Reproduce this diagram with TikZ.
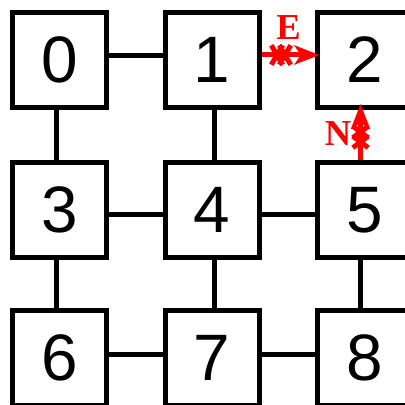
\documentclass[tikz,border=0pt]{standalone}
\usepackage{fontspec}
\setmainfont{Liberation Sans}
\newfontfamily\lblserif{Liberation Serif}
\usetikzlibrary{arrows.meta,calc,shapes.misc}
\begin{document}
\begin{tikzpicture}[x=0.25mm,y=-0.25mm,
  box/.style={draw=black, line width=1.25mm, minimum width=23.5mm, minimum height=23.75mm, inner sep=0pt, font=\fontsize{46.7}{50}\selectfont},
  conn/.style={draw=black, line width=1.25mm},
  redarrow/.style={draw=red, line width=1.25mm, -{Stealth[length=6.25mm,width=4.75mm,inset=1.6mm]}},
  xmarkh/.style={cross out, draw=red, line width=1.25mm, minimum width=1.6mm, minimum height=3.6mm, inner sep=0pt},
  xmarkv/.style={cross out, draw=red, line width=1.25mm, minimum width=2.6mm, minimum height=1.6mm, inner sep=0pt},
  lbl/.style={text=red, font=\lblserif\bfseries\fontsize{26}{28}\selectfont, inner sep=0pt}
]
\clip (0,0) rectangle (405,405);
\node[box] (b0) at (59.5,60) {0};
\node[box] (b1) at (212,60) {1};
\node[box] (b2) at (364.5,60) {2};
\node[box] (b3) at (59.5,210) {3};
\node[box] (b4) at (212,210) {4};
\node[box] (b5) at (364.5,210) {5};
\node[box] (b6) at (59.5,358) {6};
\node[box] (b7) at (212,358) {7};
\node[box] (b8) at (364.5,358) {8};
% connectors
\draw[conn] ($(b0.east)+(0,-4)$) -- ($(b1.west)+(0,-4)$);
\draw[conn] ($(b3.east)+(0,4)$) -- ($(b4.west)+(0,4)$);
\draw[conn] ($(b4.east)+(0,4)$) -- ($(b5.west)+(0,4)$);
\draw[conn] ($(b6.east)+(0,-4)$) -- ($(b7.west)+(0,-4)$);
\draw[conn] ($(b7.east)+(0,-4)$) -- ($(b8.west)+(0,-4)$);
\draw[conn] ($(b0.south)+(-3,0)$) -- ($(b3.north)+(-3,0)$);
\draw[conn] ($(b3.south)+(-3,0)$) -- ($(b6.north)+(-3,0)$);
\draw[conn] ($(b1.south)+(2.5,0)$) -- ($(b4.north)+(2.5,0)$);
\draw[conn] ($(b4.south)+(2.5,0)$) -- ($(b7.north)+(2.5,0)$);
\draw[conn] ($(b5.south)+(-4,0)$) -- ($(b8.north)+(-4,0)$);
% red arrows
\draw[redarrow] ($(b1.east)+(0,-5)$) -- ($(b2.west)+(4.5,-5)$);
\draw[redarrow] ($(b5.north)+(-4,0)$) -- ($(b2.south)+(-4,-6)$);
\node[xmarkh] (ex1) at (277,55) {};
\node[xmarkh] (ex2) at (285,55) {};
\node[xmarkv] (nx1) at (360.5,132) {};
\node[xmarkv] (nx2) at (360.5,142) {};
\node[lbl] (le) at (288.5,28) {E};
\node[lbl] (ln) at (338,134) {N};
\end{tikzpicture}
\end{document}
